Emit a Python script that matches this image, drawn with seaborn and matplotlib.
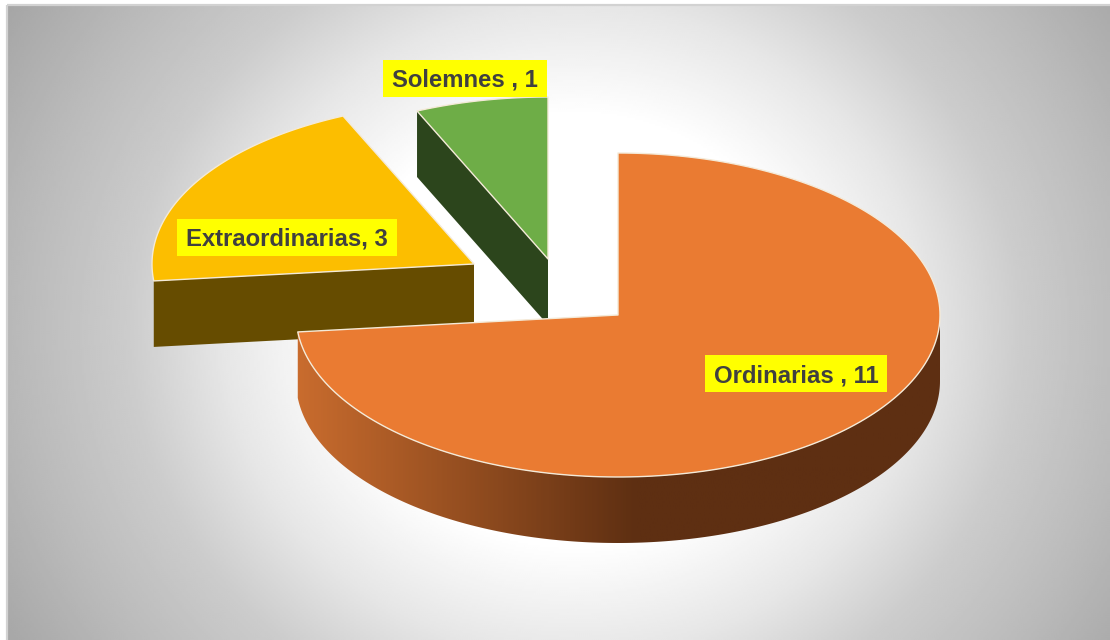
import numpy as np
import matplotlib
matplotlib.use('Agg')
import matplotlib.pyplot as plt
from matplotlib.patches import Polygon, Rectangle
import seaborn as sns

# ================= data =================
categories = ['Ordinarias', 'Extraordinarias', 'Solemnes']
values = [11, 3, 1]
labels = ['Ordinarias , 11', 'Extraordinarias, 3', 'Solemnes , 1']
top_colors = ['#ea7b32', '#fcbe00', '#6ead47']
wall_colors = ['#5e2f12', '#664c00', '#2c451c']

# pie geometry, in pixels of the picture
centers = [(618, 315), (474, 264), (548, 259)]
label_pos = [(796, 373.5), (287, 237), (465, 78)]
RX, RY = 322, 162
DEPTH = 66

sns.set_theme(style='white')
plt.rcParams['font.family'] = ['Liberation Sans', 'DejaVu Sans']

fig = plt.figure(figsize=(11.1, 6.4), dpi=100)
ax = fig.add_axes([0, 0, 1, 1])
ax.axis('off')

# background: grey corners fading to white in the middle
xx, yy = np.meshgrid(np.linspace(7, 1110, 552), np.linspace(5, 640, 318))
rr = np.sqrt(((xx - 575) / 520) ** 2 + ((yy - 330) / 480) ** 2)
grey = np.interp(rr, [0.45, 0.68, 0.86, 1.07, 1.28], [255, 230, 204, 186, 166]) / 255
ax.imshow(grey, extent=(7, 1110, 640, 5), cmap='gray', vmin=0, vmax=1,
          aspect='auto', interpolation='bilinear', zorder=0)
ax.add_patch(Rectangle((7, 4.5), 1110, 640, fill=False, edgecolor='#d2d2d2', lw=1.6, zorder=1))


def rim(center, t0, t1, dy=0):
    # points of the ellipse, angles clockwise from 12 o'clock
    t = np.radians(np.linspace(t0, t1, 200))
    return np.column_stack([center[0] + RX * np.sin(t), center[1] - RY * np.cos(t) + dy])


angles = np.concatenate([[0], np.cumsum(values) / np.sum(values) * 360])
z = 2
for i in [2, 1, 0]:
    t0, t1 = angles[i], angles[i + 1]
    c = centers[i]
    edge = rim(c, t0, t1)
    if i == 0:
        # front wall with a light to dark shading
        vis = rim(c, 90, t1)
        wall = Polygon(np.vstack([vis, rim(c, t1, 90, DEPTH)]), closed=True,
                       facecolor='none', edgecolor='none', zorder=z)
        ax.add_patch(wall)
        shade = sns.blend_palette(['#5e2f12', '#5e2f12', '#c96c2e'], as_cmap=True)
        grad = np.linspace(1, 0, 400).reshape(1, -1)
        im = ax.imshow(grad, extent=(296, 976, 640, 300), cmap=shade, aspect='auto', zorder=z)
        im.set_clip_path(wall)
    else:
        # cut side facing the viewer
        p = rim(c, t0, t0)[0]
        ax.add_patch(Polygon([c, p, (p[0], p[1] + DEPTH), (c[0], c[1] + DEPTH)], closed=True,
                             facecolor=wall_colors[i], edgecolor='none', zorder=z))
    ax.add_patch(Polygon(np.vstack([[c], edge]), closed=True, facecolor=top_colors[i],
                         edgecolor='#f4ead8', lw=1.0, joinstyle='round', zorder=z + 1))
    z += 2

ax.set_xlim(0, 1110)
ax.set_ylim(640, 0)

for lab, pos in zip(labels, label_pos):
    txt = ax.text(pos[0], pos[1] + 2, lab, ha='center', va='center', fontsize=17.2, fontweight='bold',
                  color='#404040', zorder=20)
    # yellow label box, a bit wider than the text and a fixed height
    w = txt.get_window_extent(fig.canvas.get_renderer()).width
    ax.add_patch(Rectangle((pos[0] - w / 2 - 9, pos[1] - 18.5), w + 18, 37,
                           facecolor='#ffff00', edgecolor='none', zorder=19))

fig.savefig('out.png', dpi=100)
